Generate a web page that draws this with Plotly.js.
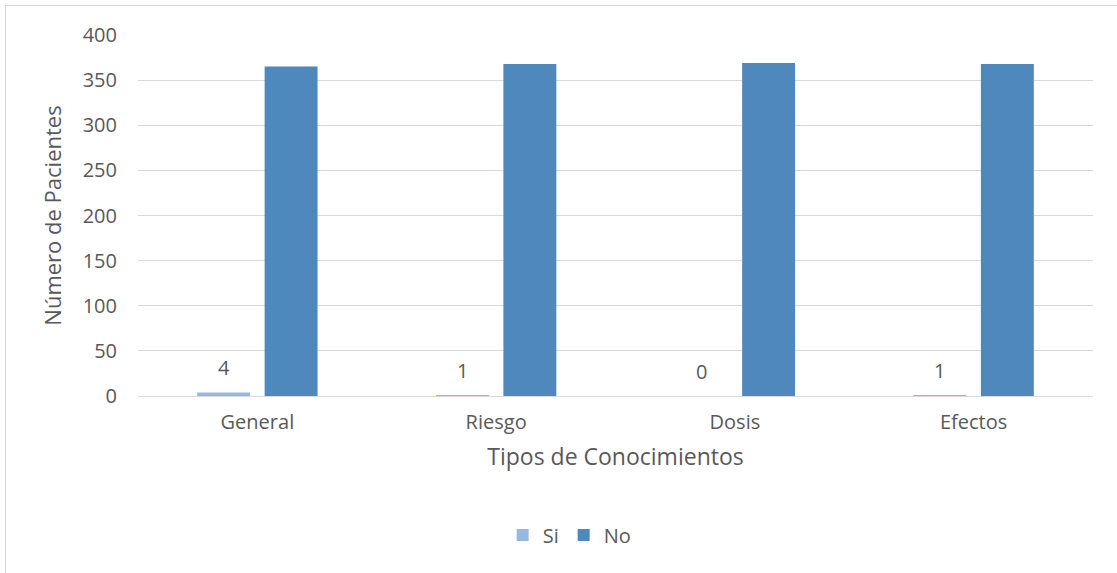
<!DOCTYPE html>
<html>
<head>
<meta charset="utf-8">
<script src="https://cdn.plot.ly/plotly-3.0.1.min.js"></script>
<style>
  html, body { margin: 0; padding: 0; overflow: hidden; background: #ffffff; }
  #frame { position: absolute; left: 5px; top: 5px; width: 1300px; height: 800px;
           border: 1px solid #d9d9d9; box-sizing: border-box; }
  #chart { position: absolute; left: 0; top: 0; width: 1117px; height: 573px; }
</style>
</head>
<body>
<div id="frame"></div>
<div id="chart"></div>
<script>
// Conocimientos de los pacientes, por tipo
const categories = ["General", "Riesgo", "Dosis", "Efectos"];
const siValues = [4, 1, 0, 1];
const noValues = [365, 368, 369, 368];
const yTicks = [0, 50, 100, 150, 200, 250, 300, 350, 400];

const textColor = "#595959";
const fontFamily = "'Open Sans', 'Noto Sans', sans-serif";

const traces = [
  {
    type: "bar", name: "Si", x: categories, y: siValues,
    marker: { color: "#97B9E0" }, hoverinfo: "skip"
  },
  {
    type: "bar", name: "No", x: categories, y: noValues,
    marker: { color: "#4F88BC" }, hoverinfo: "skip"
  }
];

// Value labels above the "Si" bars (left slot of each group)
const annotations = categories.map((c, i) => ({
  x: c, y: siValues[i], xref: "x", yref: "y",
  text: String(siValues[i]), showarrow: false,
  xanchor: "center", yanchor: "middle",
  xshift: -33.75, yshift: 25,
  font: { family: fontFamily, size: 20, color: textColor }
}));

const layout = {
  width: 1117, height: 573,
  margin: { l: 138, r: 24, t: 35, b: 177, pad: 0 },
  paper_bgcolor: "rgba(0,0,0,0)",
  plot_bgcolor: "rgba(0,0,0,0)",
  barmode: "group",
  bargap: 0.435,
  bargroupgap: 0.215,
  showlegend: true,
  legend: {
    orientation: "h", x: 0.452, xanchor: "center", y: -0.385, yanchor: "middle",
    font: { family: fontFamily, size: 20, color: textColor },
    itemwidth: 30, traceorder: "normal"
  },
  xaxis: {
    type: "category",
    showgrid: false, zeroline: false,
    showline: false, ticks: "",
    ticklabelstandoff: 12,
    tickfont: { family: fontFamily, size: 20, color: textColor },
    title: { text: "Tipos de Conocimientos", standoff: 14,
             font: { family: fontFamily, size: 23, color: textColor } }
  },
  yaxis: {
    range: [0, 400],
    tickvals: yTicks,
    ticktext: yTicks.map(String),
    showgrid: true, gridcolor: "#d9d9d9", gridwidth: 1,
    zeroline: true, zerolinecolor: "#d9d9d9", zerolinewidth: 1,
    showline: false, ticks: "",
    ticklabelstandoff: 20,
    tickfont: { family: fontFamily, size: 20, color: textColor },
    title: { text: "Número de Pacientes", standoff: 14,
             font: { family: fontFamily, size: 22, color: textColor } }
  },
  annotations: annotations,
  hovermode: false
};

Plotly.newPlot("chart", traces, layout, { displayModeBar: false, staticPlot: true });
</script>
</body>
</html>
